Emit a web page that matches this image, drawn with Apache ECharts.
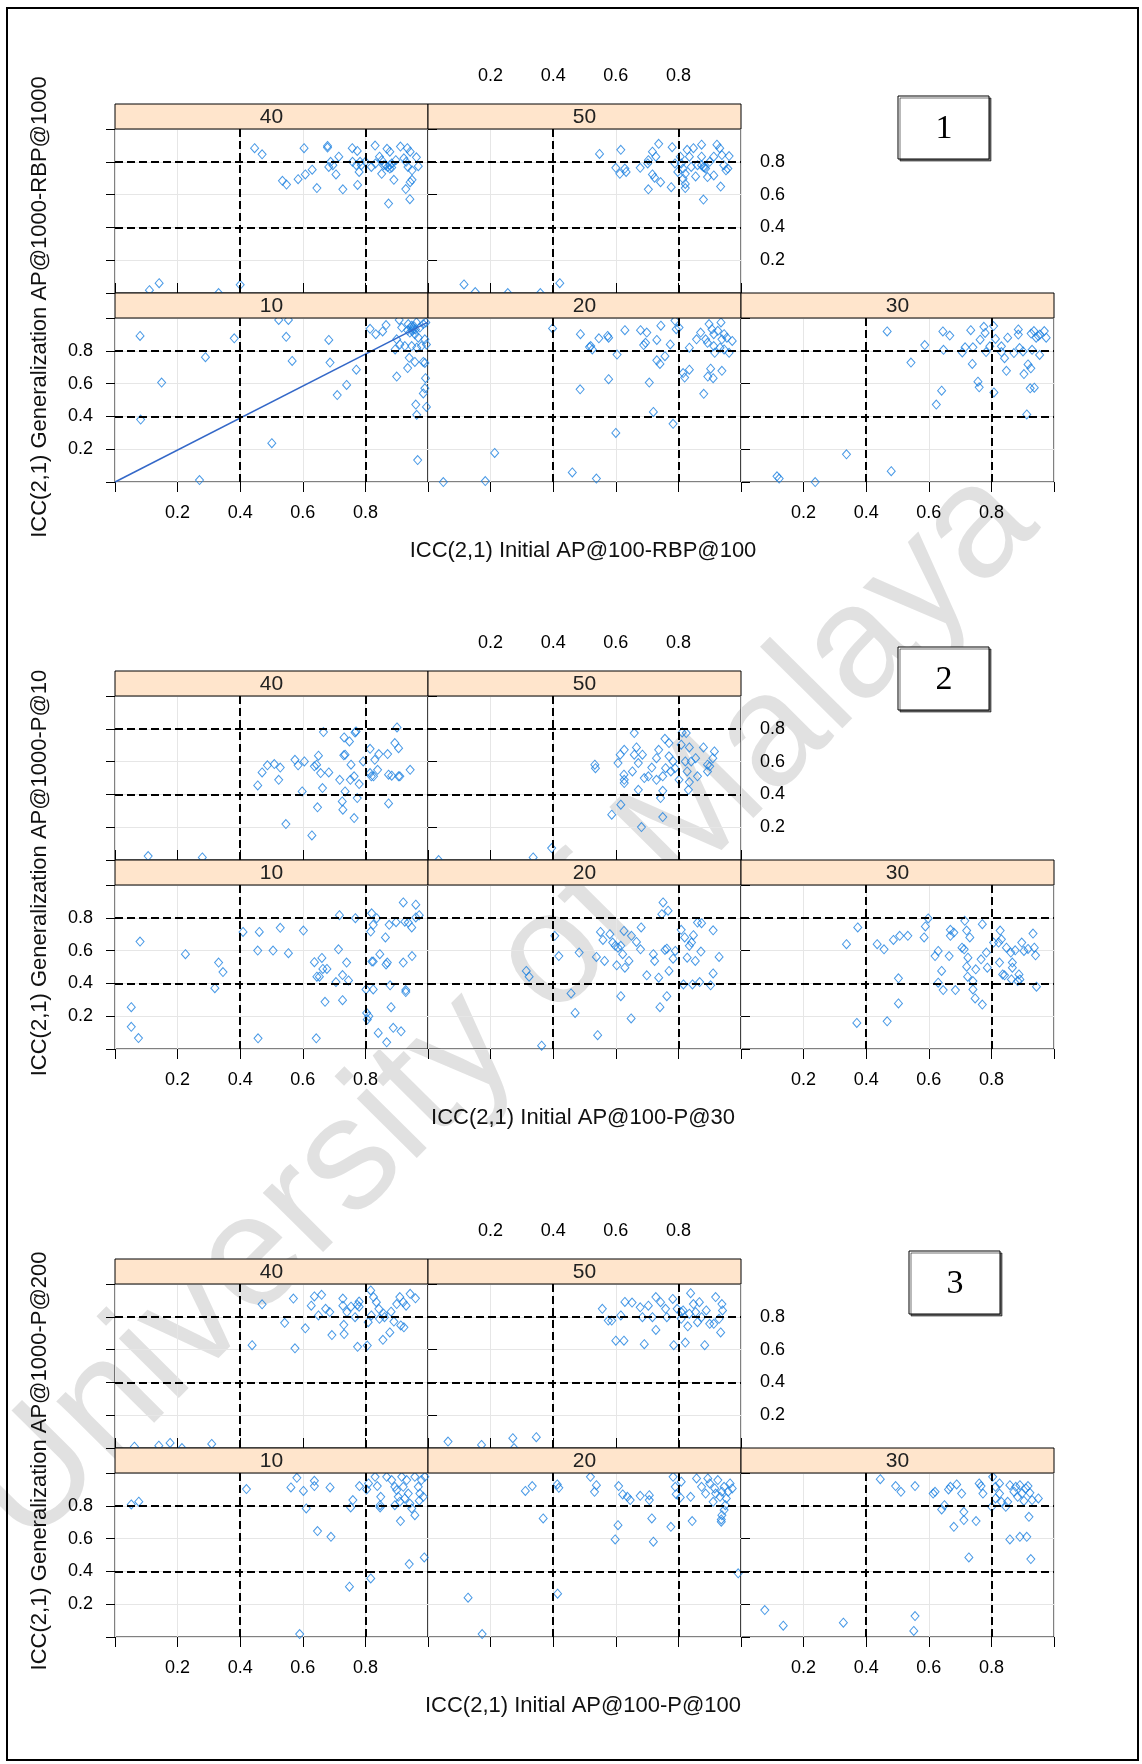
<!DOCTYPE html>
<html>
<head>
<meta charset="utf-8">
<script src="https://cdn.jsdelivr.net/npm/echarts@6/dist/echarts.min.js"></script>
<style>
html, body { margin: 0; padding: 0; background: #fff; }
#container { width: 1142px; height: 1764px; }
</style>
</head>
<body>
<div id="container"></div>
<script>
// panel (strip) labels, tick labels, reference lines
var panelNames = ['40', '50', '10', '20', '30'];
var tickLabels = ['0.2', '0.4', '0.6', '0.8'];
var refLines = [0.4, 0.8];
var boxLabels = ['1', '2', '3'];
var xTitles = ['ICC(2,1) Initial AP@100-RBP@100', 'ICC(2,1) Initial AP@100-P@30', 'ICC(2,1) Initial AP@100-P@100'];
var yTitles = ['ICC(2,1) Generalization AP@1000-RBP@1000', 'ICC(2,1) Generalization AP@1000-P@10', 'ICC(2,1) Generalization AP@1000-P@200'];
var watermark = 'University of Malaya';

// plot 1 diagonal line (panel 10)
var diag1 = [[0, 0], [1, 0.975]];

// plot 1 : AP@100-RBP@100 vs AP@1000-RBP@1000
var p1_40 = [[.446,.883],[.470,.846],[.604,.883],[.679,.897],[.679,.887],[.715,.831],[.758,.883],[.774,.866],[.831,.899],[.869,.879],[.878,.862],[.912,.893],[.934,.883],[.943,.862],[.963,.827],[.969,.773],[.689,.800],[.696,.779],[.683,.769],[.706,.723],[.783,.800],[.787,.779],[.780,.738],[.819,.769],[.832,.790],[.852,.810],[.858,.779],[.871,.769],[.878,.759],[.884,.790],[.897,.810],[.923,.821],[.930,.800],[.936,.769],[.949,.748],[.852,.727],[.891,.690],[.949,.690],[.943,.676],[.929,.634],[.942,.572],[.874,.545],[.775,.659],[.728,.632],[.645,.640],[.630,.752],[.608,.723],[.585,.694],[.548,.661],[.535,.684],[.759,.800],[.771,.779],[.800,.800],[.865,.779],[.878,.779],[.884,.765],[.845,.831],[.110,.017],[.141,.060],[.331,0.0],[.400,.050]];
var p1_50 = [[.548,.848],[.616,.873],[.600,.763],[.613,.727],[.629,.759],[.633,.738],[.678,.763],[.702,.790],[.704,.810],[.717,.862],[.737,.910],[.728,.831],[.717,.723],[.724,.703],[.743,.676],[.704,.632],[.777,.645],[.780,.889],[.806,.831],[.809,.790],[.815,.759],[.822,.727],[.815,.696],[.822,.665],[.822,.640],[.828,.873],[.835,.831],[.848,.883],[.861,.779],[.874,.904],[.880,.769],[.887,.759],[.893,.707],[.874,.831],[.900,.800],[.913,.831],[.923,.904],[.932,.883],[.939,.841],[.945,.779],[.952,.748],[.958,.759],[.962,.835],[.935,.649],[.880,.570],[.855,.711],[.841,.769],[.789,.790],[.798,.738],[.913,.717],[.874,.779],[.884,.765],[.115,.052],[.151,.006],[.255,0.0],[.359,0.0],[.421,.060]];
var p1_10 = [[.080,.891],[.381,.876],[.289,.761],[.149,.606],[.082,.381],[.523,.988],[.554,.988],[.547,.885],[.566,.738],[.683,.866],[.687,.728],[.771,.685],[.740,.592],[.710,.530],[.501,.237],[.270,.012],[.967,.134],[.815,.934],[.833,.901],[.855,.918],[.866,.957],[.908,.988],[.916,.942],[.937,.963],[.948,.953],[.953,.932],[.963,.973],[.974,.942],[.985,.963],[.993,.973],[.942,.911],[.958,.901],[.969,.880],[.990,.870],[.900,.870],[.910,.839],[.926,.829],[.895,.808],[.948,.829],[.964,.819],[.979,.829],[.995,.839],[.940,.757],[.958,.732],[.985,.732],[.990,.726],[.935,.695],[.900,.643],[.992,.633],[.990,.571],[.985,.540],[.995,.458],[.961,.472],[.964,.410],[.945,.940],[.950,.920],[.955,.950],[.960,.930],[.935,.925]];
var p1_20 = [[.398,.936],[.487,.901],[.520,.829],[.525,.808],[.516,.823],[.546,.876],[.574,.891],[.577,.880],[.604,.777],[.629,.926],[.679,.926],[.699,.911],[.695,.849],[.689,.835],[.731,.866],[.744,.953],[.774,.839],[.757,.767],[.731,.742],[.741,.720],[.789,.984],[.793,.932],[.802,.942],[.835,.819],[.858,.870],[.871,.911],[.898,.963],[.907,.932],[.913,.901],[.926,.922],[.936,.973],[.946,.901],[.955,.880],[.972,.860],[.893,.849],[.913,.829],[.933,.819],[.916,.788],[.946,.808],[.962,.788],[.887,.870],[.939,.870],[.815,.664],[.820,.637],[.835,.685],[.894,.643],[.903,.691],[.911,.633],[.939,.678],[.881,.538],[.577,.627],[.707,.606],[.486,.565],[.720,.427],[.783,.355],[.600,.299],[.213,.177],[.461,.058],[.538,.021],[.049,0.0],[.183,.006]];
var p1_30 = [[.467,.918],[.543,.728],[.587,.835],[.645,.918],[.667,.893],[.647,.806],[.624,.472],[.641,.557],[.707,.790],[.716,.821],[.734,.926],[.741,.821],[.739,.720],[.757,.612],[.761,.577],[.764,.868],[.776,.946],[.780,.909],[.783,.792],[.795,.827],[.807,.951],[.808,.546],[.813,.872],[.832,.827],[.832,.792],[.842,.755],[.852,.880],[.848,.678],[.872,.786],[.886,.930],[.886,.899],[.901,.796],[.904,.658],[.917,.717],[.926,.693],[.927,.905],[.936,.920],[.943,.880],[.950,.890],[.955,.899],[.969,.920],[.975,.880],[.954,.775],[.924,.571],[.937,.575],[.913,.412],[.930,.806],[.890,.817],[.337,.169],[.480,.066],[.115,.035],[.122,.021],[.237,0.0]];

// plot 2 : AP@100-P@30 vs AP@1000-P@10
var p2_40 = [[.106,.024],[.279,.016],[.456,.455],[.470,.534],[.487,.577],[.509,.585],[.528,.564],[.523,.489],[.546,.219],[.575,.611],[.585,.577],[.605,.601],[.598,.418],[.629,.150],[.637,.571],[.644,.581],[.650,.636],[.657,.530],[.663,.439],[.666,.780],[.683,.534],[.647,.321],[.718,.489],[.726,.357],[.728,.307],[.735,.418],[.732,.747],[.749,.723],[.731,.638],[.752,.489],[.754,.581],[.764,.510],[.767,.778],[.770,.784],[.764,.256],[.774,.378],[.780,.463],[.793,.601],[.815,.678],[.815,.530],[.826,.510],[.830,.611],[.839,.550],[.843,.646],[.871,.646],[.874,.520],[.884,.514],[.894,.713],[.906,.682],[.906,.510],[.910,.510],[.901,.808],[.943,.550],[.874,.345],[.819,.510],[.735,.642]];
var p2_50 = [[.034,0.0],[.336,.016],[.395,.073],[.533,.581],[.535,.560],[.587,.276],[.616,.337],[.607,.591],[.614,.642],[.627,.672],[.626,.520],[.627,.489],[.627,.469],[.653,.540],[.659,.774],[.666,.686],[.659,.642],[.672,.591],[.685,.642],[.691,.500],[.672,.428],[.682,.201],[.704,.510],[.715,.564],[.730,.621],[.737,.672],[.730,.489],[.750,.510],[.757,.739],[.759,.560],[.770,.713],[.770,.632],[.743,.378],[.750,.422],[.750,.262],[.776,.540],[.783,.601],[.789,.560],[.802,.489],[.809,.703],[.812,.778],[.825,.774],[.822,.601],[.835,.686],[.828,.540],[.835,.475],[.832,.428],[.841,.601],[.855,.621],[.861,.510],[.880,.686],[.893,.540],[.900,.571],[.910,.621],[.915,.662],[.893,.581]];
var p2_10 = [[.080,.655],[.225,.578],[.331,.527],[.345,.469],[.319,.371],[.052,.255],[.052,.135],[.075,.067],[.409,.714],[.461,.714],[.528,.739],[.602,.722],[.456,.600],[.505,.600],[.554,.584],[.457,.065],[.643,.065],[.637,.529],[.661,.555],[.664,.488],[.677,.488],[.645,.441],[.653,.441],[.714,.608],[.740,.527],[.727,.451],[.706,.408],[.746,.418],[.727,.298],[.671,.288],[.717,.816],[.768,.798],[.820,.827],[.825,.757],[.817,.716],[.836,.798],[.864,.680],[.876,.757],[.898,.773],[.921,.894],[.926,.776],[.937,.771],[.948,.741],[.961,.880],[.961,.802],[.972,.816],[.821,.533],[.825,.533],[.846,.578],[.866,.516],[.870,.527],[.921,.527],[.949,.567],[.802,.363],[.825,.363],[.879,.388],[.929,.359],[.929,.347],[.882,.255],[.804,.220],[.811,.200],[.806,.180],[.841,.098],[.868,.041],[.889,.129],[.914,.108]];
var p2_20 = [[.363,.020],[.314,.476],[.323,.441],[.405,.690],[.418,.567],[.483,.588],[.457,.339],[.470,.220],[.542,.084],[.538,.561],[.564,.537],[.551,.714],[.559,.665],[.581,.700],[.590,.649],[.598,.629],[.607,.618],[.616,.629],[.626,.720],[.622,.578],[.629,.496],[.603,.510],[.616,.322],[.649,.186],[.642,.537],[.650,.690],[.666,.653],[.679,.608],[.681,.741],[.699,.449],[.720,.578],[.724,.537],[.737,.435],[.741,.255],[.763,.322],[.770,.476],[.751,.894],[.747,.822],[.767,.843],[.757,.604],[.763,.612],[.783,.551],[.790,.598],[.809,.727],[.816,.394],[.820,.680],[.828,.557],[.835,.629],[.842,.649],[.848,.694],[.854,.537],[.845,.394],[.868,.408],[.872,.594],[.874,.767],[.861,.771],[.903,.388],[.911,.461],[.911,.724],[.930,.561]];
var p2_30 = [[.337,.639],[.373,.741],[.370,.159],[.435,.639],[.457,.608],[.467,.169],[.487,.665],[.503,.431],[.503,.278],[.507,.690],[.533,.690],[.585,.680],[.589,.747],[.598,.796],[.620,.567],[.630,.598],[.630,.404],[.641,.476],[.646,.359],[.665,.567],[.669,.727],[.669,.690],[.680,.710],[.685,.359],[.706,.618],[.713,.608],[.715,.782],[.721,.722],[.731,.680],[.721,.502],[.725,.557],[.724,.441],[.741,.414],[.741,.363],[.748,.308],[.750,.486],[.767,.547],[.771,.271],[.771,.761],[.784,.588],[.787,.496],[.807,.649],[.823,.649],[.826,.527],[.828,.722],[.832,.669],[.836,.455],[.842,.449],[.848,.618],[.862,.588],[.867,.527],[.867,.496],[.864,.424],[.876,.602],[.884,.414],[.888,.455],[.897,.649],[.904,.598],[.917,.610],[.933,.704],[.937,.618],[.941,.571],[.944,.380],[.891,.424]];

// plot 3 : AP@100-P@100 vs AP@1000-P@200
var p3_40 = [[.062,.008],[.140,.014],[.176,.031],[.214,0.0],[.309,.025],[.438,.627],[.470,.876],[.542,.763],[.570,.911],[.575,.608],[.608,.730],[.627,.868],[.637,.924],[.660,.934],[.650,.808],[.673,.849],[.686,.829],[.693,.689],[.728,.911],[.728,.868],[.731,.751],[.732,.695],[.741,.829],[.754,.862],[.774,.872],[.780,.862],[.767,.798],[.775,.617],[.806,.625],[.809,.767],[.817,.961],[.826,.920],[.835,.889],[.843,.849],[.819,.808],[.845,.788],[.858,.819],[.856,.660],[.878,.705],[.882,.831],[.891,.771],[.900,.878],[.910,.920],[.921,.889],[.923,.736],[.913,.747],[.943,.940],[.960,.913],[.930,.868],[.861,.798],[.780,.893]];
var p3_50 = [[.064,.039],[.171,.019],[.271,.060],[.275,0.0],[.346,.066],[.557,.849],[.576,.777],[.587,.777],[.616,.808],[.600,.654],[.626,.654],[.629,.891],[.652,.887],[.678,.858],[.691,.633],[.685,.798],[.704,.868],[.717,.798],[.728,.920],[.728,.720],[.743,.889],[.759,.849],[.763,.798],[.782,.909],[.785,.627],[.796,.849],[.809,.788],[.815,.839],[.822,.643],[.830,.742],[.839,.944],[.848,.878],[.855,.829],[.861,.767],[.867,.889],[.874,.798],[.884,.627],[.889,.839],[.900,.757],[.913,.757],[.919,.920],[.930,.788],[.935,.705],[.939,.878],[.941,.839],[.809,.829],[.835,.819]];
var p3_10 = [[.052,.808],[.076,.825],[.420,.902],[.562,.912],[.581,.971],[.602,.891],[.611,.784],[.637,.952],[.637,.920],[.687,.912],[.647,.646],[.690,.611],[.749,.307],[.590,.018],[.760,.835],[.753,.790],[.781,.920],[.804,.900],[.810,.936],[.831,.977],[.838,.920],[.849,.855],[.847,.804],[.847,.790],[.817,.357],[.868,.977],[.884,.957],[.894,.916],[.894,.804],[.905,.855],[.910,.825],[.916,.977],[.921,.916],[.932,.957],[.937,.875],[.942,.814],[.948,.784],[.958,.743],[.958,.977],[.969,.916],[.974,.875],[.979,.957],[.985,.855],[.990,.977],[.972,.831],[.912,.707],[.940,.445],[.988,.485],[.900,.896],[.926,.845]];
var p3_20 = [[.128,.240],[.173,.018],[.311,.891],[.333,.920],[.368,.723],[.413,.930],[.418,.910],[.414,.264],[.519,.977],[.538,.926],[.532,.885],[.598,.595],[.607,.682],[.609,.920],[.622,.869],[.637,.855],[.646,.835],[.678,.861],[.707,.865],[.707,.835],[.715,.723],[.720,.581],[.776,.672],[.783,.977],[.790,.916],[.793,.871],[.809,.947],[.806,.851],[.839,.855],[.844,.707],[.858,.967],[.874,.916],[.887,.875],[.894,.967],[.900,.936],[.911,.824],[.916,.906],[.926,.957],[.933,.855],[.939,.886],[.946,.916],[.953,.845],[.959,.886],[.972,.906],[.950,.804],[.946,.774],[.939,.743],[.937,.717],[.937,.703],[.919,.875],[.965,.936],[.991,.388]];
var p3_30 = [[.076,.164],[.135,.069],[.327,.087],[.556,.128],[.552,.037],[.445,.962],[.494,.920],[.511,.885],[.556,.920],[.614,.875],[.620,.885],[.641,.778],[.650,.804],[.663,.900],[.669,.916],[.689,.930],[.705,.875],[.680,.672],[.712,.763],[.712,.713],[.751,.707],[.728,.485],[.761,.936],[.767,.920],[.773,.875],[.804,.977],[.813,.916],[.813,.845],[.826,.875],[.832,.824],[.846,.794],[.852,.824],[.859,.926],[.872,.886],[.878,.916],[.884,.855],[.891,.926],[.897,.875],[.904,.830],[.910,.906],[.917,.920],[.923,.879],[.930,.835],[.950,.845],[.920,.733],[.859,.595],[.891,.611],[.913,.611],[.926,.475],[.801,.794],[.826,.936]];

var plotData = [
    [p1_40, p1_50, p1_10, p1_20, p1_30],
    [p2_40, p2_50, p2_10, p2_20, p2_30],
    [p3_40, p3_50, p3_10, p3_20, p3_30]
];

// layout
var PW = 313, SH = 25, PH = 164;
var colLeft = [115, 428, 741];
var plotTop = [104, 671, 1259];
var boxPos = [[898, 96], [898, 647], [909, 1251]];
var yTitleY = [307, 873, 1461];
var FONT = '"Liberation Sans", Arial, sans-serif';

// col, row, x side, x labels, y side, y ticks, y labels
var panelSpec = [
    {col: 0, row: 0, xPos: 'top', xLab: false, yPos: 'left', yTick: true, yLab: false},
    {col: 1, row: 0, xPos: 'top', xLab: true, yPos: 'right', yTick: true, yLab: true},
    {col: 0, row: 1, xPos: 'bottom', xLab: true, yPos: 'left', yTick: true, yLab: true},
    {col: 1, row: 1, xPos: 'bottom', xLab: false, yPos: 'left', yTick: false, yLab: false},
    {col: 2, row: 1, xPos: 'bottom', xLab: true, yPos: 'right', yTick: true, yLab: false}
];

function fmt(v) {
    var s = v.toFixed(1);
    return tickLabels.indexOf(s) >= 0 ? s : '';
}

var grids = [], xAxes = [], yAxes = [], series = [], graphics = [];

// watermark behind everything
graphics.push({
    type: 'text', x: 503, y: 1008, rotation: 0.79, z: -10,
    style: {
        text: watermark, font: '160px ' + FONT,
        fill: 'rgba(180,180,180,0.40)', textAlign: 'center', textVerticalAlign: 'middle'
    }
});

for (var p = 0; p < 3; p++) {
    for (var k = 0; k < 5; k++) {
        var sp = panelSpec[k];
        var idx = grids.length;
        var stripTop = plotTop[p] + sp.row * (SH + PH);
        var gTop = stripTop + SH;
        grids.push({
            left: colLeft[sp.col], top: gTop, width: PW, height: PH,
            show: true, borderColor: '#000', borderWidth: 1, backgroundColor: 'transparent'
        });
        xAxes.push({
            type: 'value', gridIndex: idx, min: 0, max: 1, interval: 0.2,
            position: sp.xPos, offset: sp.row === 0 ? SH : 0,
            axisLine: {show: false},
            axisTick: {show: true, length: 10, lineStyle: {color: '#000'}},
            axisLabel: {show: sp.xLab, formatter: fmt, margin: sp.row === 0 ? 19 : 22,
                fontSize: 18, fontFamily: FONT, color: '#000'},
            splitLine: {show: true, lineStyle: {color: '#e6e6e6', width: 1}}
        });
        yAxes.push({
            type: 'value', gridIndex: idx, min: 0, max: 1, interval: 0.2,
            position: sp.yPos,
            axisLine: {show: false},
            axisTick: {show: sp.yTick, length: 9, lineStyle: {color: '#000'}},
            axisLabel: {show: sp.yLab, formatter: fmt, margin: sp.yPos === 'left' ? 22 : 19,
                fontSize: 18, fontFamily: FONT, color: '#000'},
            splitLine: {show: true, lineStyle: {color: '#e6e6e6', width: 1}}
        });
        var ml = [];
        refLines.forEach(function (v) { ml.push({xAxis: v}); ml.push({yAxis: v}); });
        series.push({
            type: 'scatter', xAxisIndex: idx, yAxisIndex: idx,
            data: plotData[p][k], clip: true,
            symbol: 'diamond', symbolSize: [8, 9],
            itemStyle: {color: 'rgba(255,255,255,0)', borderColor: '#1a7fe0', borderWidth: 1},
            markLine: {
                silent: true, symbol: 'none', animation: false,
                label: {show: false},
                lineStyle: {color: '#000', type: [8, 4], width: 2},
                data: ml
            }
        });
        if (p === 0 && k === 2) {
            series.push({
                type: 'line', xAxisIndex: idx, yAxisIndex: idx, data: diag1,
                showSymbol: false, silent: true,
                lineStyle: {color: '#3468c8', width: 1.5}
            });
        }
        // strip
        graphics.push({
            type: 'rect', shape: {x: colLeft[sp.col], y: stripTop, width: PW, height: SH},
            style: {fill: '#ffe5cc', stroke: '#000', lineWidth: 1}, z: 5
        });
        graphics.push({
            type: 'text', x: colLeft[sp.col] + PW / 2, y: stripTop + SH / 2 + 1, z: 6,
            style: {text: panelNames[k], font: '21px ' + FONT, fill: '#222',
                textAlign: 'center', textVerticalAlign: 'middle'}
        });
    }
    // axis titles
    graphics.push({
        type: 'text', x: 583, y: plotTop[p] + 2 * (SH + PH) + 69, z: 6,
        style: {text: xTitles[p], font: '22px ' + FONT, fill: '#111',
            textAlign: 'center', textVerticalAlign: 'middle'}
    });
    graphics.push({
        type: 'text', x: 40, y: yTitleY[p], rotation: Math.PI / 2, z: 6,
        style: {text: yTitles[p], font: '22px ' + FONT, fill: '#111',
            textAlign: 'center', textVerticalAlign: 'middle'}
    });
    // numbered box
    graphics.push({
        type: 'rect', shape: {x: boxPos[p][0], y: boxPos[p][1], width: 91, height: 63},
        style: {fill: '#fff', stroke: '#000', lineWidth: 1,
            shadowColor: 'rgba(0,0,0,0.55)', shadowOffsetX: 2, shadowOffsetY: 2, shadowBlur: 0}, z: 6
    });
    graphics.push({
        type: 'text', x: boxPos[p][0] + 46, y: boxPos[p][1] + 33, z: 7,
        style: {text: boxLabels[p], font: '34px "Liberation Serif", "Times New Roman", serif', fill: '#000',
            textAlign: 'center', textVerticalAlign: 'middle'}
    });
}

// outer frame
graphics.push({
    type: 'rect', shape: {x: 7, y: 8, width: 1131, height: 1752},
    style: {fill: 'none', stroke: '#000', lineWidth: 2}, z: 8
});

var dom = document.getElementById('container');
var myChart = echarts.init(dom, null, {renderer: 'canvas'});
var option = {
    animation: false,
    backgroundColor: '#fff',
    grid: grids,
    xAxis: xAxes,
    yAxis: yAxes,
    series: series,
    graphic: {elements: graphics}
};
myChart.setOption(option);
</script>
</body>
</html>
